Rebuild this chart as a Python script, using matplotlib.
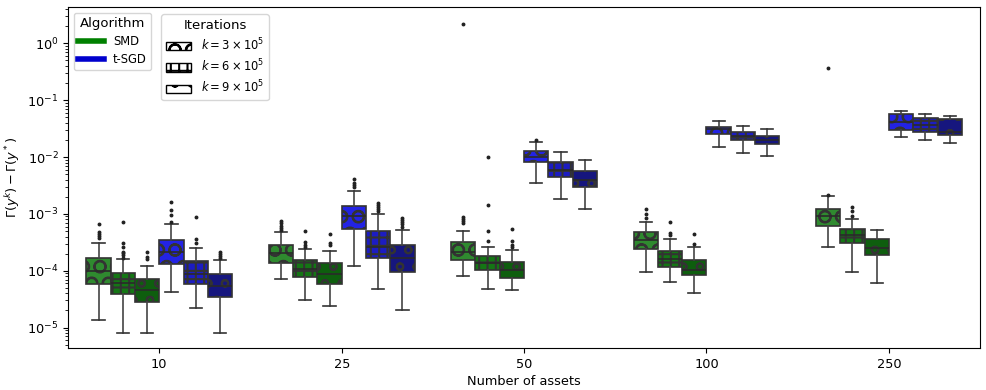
import matplotlib
matplotlib.use('Agg')
import matplotlib.pyplot as plt
from matplotlib.lines import Line2D
from matplotlib.patches import Patch
from matplotlib.ticker import NullFormatter

assets = ['10', '25', '50', '100', '250']
yticks = [1e-5, 1e-4, 1e-3, 1e-2, 1e-1, 1e0]

# box stats per asset count: [whisker low, q1, median, q3, whisker high]
smd_k3 = [[1.35e-5, 5.95e-5, 1.0e-4, 1.66e-4, 3.13e-4],
          [7.2e-5, 1.38e-4, 2.09e-4, 2.82e-4, 4.83e-4],
          [8.2e-5, 1.57e-4, 2.17e-4, 3.18e-4, 5.03e-4],
          [9.7e-5, 2.43e-4, 3.49e-4, 4.83e-4, 7.3e-4],
          [2.63e-4, 6.2e-4, 9.3e-4, 1.21e-3, 2.1e-3]]
smd_k6 = [[8.2e-6, 3.97e-5, 6.1e-5, 9.1e-5, 1.6e-4],
          [3.08e-5, 7.7e-5, 1.09e-4, 1.54e-4, 2.4e-4],
          [4.75e-5, 1.02e-4, 1.39e-4, 1.85e-4, 2.66e-4],
          [6.3e-5, 1.16e-4, 1.62e-4, 2.24e-4, 3.59e-4],
          [9.7e-5, 3.05e-4, 4.22e-4, 5.38e-4, 8.07e-4]]
smd_k9 = [[8.1e-6, 2.84e-5, 4.6e-5, 7.1e-5, 1.22e-4],
          [2.39e-5, 5.95e-5, 8.7e-5, 1.36e-4, 2.21e-4],
          [4.6e-5, 7.6e-5, 1.04e-4, 1.43e-4, 2.33e-4],
          [4.04e-5, 8.4e-5, 1.04e-4, 1.57e-4, 2.66e-4],
          [6.05e-5, 1.93e-4, 2.56e-4, 3.59e-4, 5.24e-4]]
sgd_k3 = [[4.26e-5, 1.31e-4, 2.17e-4, 3.49e-4, 6.6e-4],
          [1.22e-4, 5.45e-4, 9.0e-4, 1.37e-3, 2.57e-3],
          [3.55e-3, 8.1e-3, 1.02e-2, 1.3e-2, 1.87e-2],
          [1.51e-2, 2.58e-2, 3.08e-2, 3.42e-2, 4.31e-2],
          [2.28e-2, 3.03e-2, 4.19e-2, 5.65e-2, 6.46e-2]]
sgd_k6 = [[2.2e-5, 5.9e-5, 8.9e-5, 1.51e-4, 2.5e-4],
          [4.68e-5, 1.7e-4, 2.63e-4, 5.1e-4, 9.9e-4],
          [1.81e-3, 4.42e-3, 5.93e-3, 8.1e-3, 1.21e-2],
          [1.19e-2, 2.02e-2, 2.38e-2, 2.73e-2, 3.56e-2],
          [2.0e-2, 2.73e-2, 3.67e-2, 4.92e-2, 5.8e-2]]
sgd_k9 = [[8.2e-6, 3.44e-5, 5.4e-5, 8.8e-5, 1.57e-4],
          [2.0e-5, 9.4e-5, 1.66e-4, 2.85e-4, 5.24e-4],
          [1.22e-3, 2.94e-3, 3.96e-3, 5.62e-3, 8.9e-3],
          [1.05e-2, 1.68e-2, 2.0e-2, 2.38e-2, 3.12e-2],
          [1.79e-2, 2.42e-2, 2.73e-2, 4.62e-2, 5.28e-2]]

# outliers per asset count
smd_k3_out = [[6.6e-4, 4.9e-4, 4.45e-4, 4.1e-4, 3.74e-4],
              [7.5e-4, 6.9e-4, 6.2e-4, 5.7e-4, 5.3e-4],
              [2.2, 8.75e-4, 8.07e-4, 7.45e-4, 6.87e-4],
              [1.22e-3, 1.0e-3, 8.4e-4],
              [0.372, 2.15e-3]]
smd_k6_out = [[7.15e-4, 3.05e-4, 2.6e-4, 2.17e-4, 2.04e-4, 1.9e-4, 1.7e-4],
              [5.1e-4, 3.22e-4, 2.89e-4, 2.66e-4],
              [9.9e-3, 1.44e-3, 4.97e-4, 3.35e-4],
              [7.15e-4, 4.69e-4, 4.33e-4],
              [1.34e-3, 1.13e-3, 9.3e-4]]
smd_k9_out = [[2.17e-4, 1.73e-4, 1.62e-4],
              [4.5e-4, 3.13e-4, 2.85e-4],
              [5.38e-4, 3.31e-4, 2.82e-4, 2.66e-4],
              [4.4e-4, 2.97e-4],
              []]
sgd_k3_out = [[1.6e-3, 1.16e-3, 9.6e-4, 7.15e-4],
              [4.07e-3, 3.47e-3, 3.2e-3, 2.94e-3],
              [2.02e-2],
              [],
              []]
sgd_k6_out = [[8.9e-4, 3.63e-4, 3.13e-4],
              [1.58e-3, 1.46e-3, 1.34e-3, 1.24e-3, 1.14e-3],
              [], [], []]
sgd_k9_out = [[2.17e-4, 1.98e-4, 1.83e-4, 1.7e-4],
              [8.6e-4, 7.85e-4, 7.15e-4, 6.6e-4, 5.98e-4],
              [], [], []]

series = [(smd_k3, smd_k3_out, '#2f8a2f', 'O'),
          (smd_k6, smd_k6_out, '#147614', '++'),
          (smd_k9, smd_k9_out, '#0e5e0e', 'o'),
          (sgd_k3, sgd_k3_out, '#2323e4', 'O'),
          (sgd_k6, sgd_k6_out, '#1c1cc2', '++'),
          (sgd_k9, sgd_k9_out, '#16167e', 'o')]

plt.rcParams['font.size'] = 9.3
plt.rcParams['hatch.linewidth'] = 1.5
plt.rcParams['hatch.color'] = '#1a1a1a'

fig = plt.figure(figsize=(9.87, 3.9), dpi=100)
ax = fig.add_axes([0.069, 0.108, 0.924, 0.874])

w = 0.8 / 6
for j, (stats, outs, col, hatch) in enumerate(series):
    off = -0.4 + w * (j + 0.5)
    bstats = []
    for i in range(len(assets)):
        lo, q1, med, q3, hi = stats[i]
        bstats.append(dict(whislo=lo, q1=q1, med=med, q3=q3, whishi=hi, fliers=outs[i]))
    pos = [i + off for i in range(len(assets))]
    bp = ax.bxp(bstats, positions=pos, widths=w, patch_artist=True, manage_ticks=False,
                boxprops=dict(facecolor=col, edgecolor='#333333', linewidth=1.2),
                whiskerprops=dict(color='#444444', linewidth=1.2),
                capprops=dict(color='#333333', linewidth=1.2),
                medianprops=dict(color='#2a2a2a', linewidth=1.2),
                flierprops=dict(marker='o', markersize=1.8, markerfacecolor='#222222',
                                markeredgecolor='#222222', linestyle='none'))
    for b in bp['boxes']:
        b.set_hatch(hatch)

ax.set_yscale('log')
ax.set_ylim(4.4e-6, 4.35)
ax.set_yticks(yticks)
ax.yaxis.set_minor_formatter(NullFormatter())
ax.set_xlim(-0.5, len(assets) - 0.5)
ax.set_xticks(range(len(assets)))
ax.set_xticklabels(assets)
ax.set_xlabel('Number of assets', labelpad=3)
ax.set_ylabel(r'$\Gamma(y^k) - \Gamma(y^*)$')

alg_handles = [Line2D([0], [0], color='green', lw=4, label='SMD'),
               Line2D([0], [0], color='mediumblue', lw=4, label='t-SGD')]
leg1 = ax.legend(handles=alg_handles, title='Algorithm', loc='upper left',
                 bbox_to_anchor=(0.0, 1.0), fontsize=8.3, title_fontsize=9.5,
                 labelspacing=0.4, handlelength=2.2)
ax.add_artist(leg1)

it_handles = [Patch(facecolor='white', edgecolor='black', hatch='O', label=r'$k=3\times10^5$'),
              Patch(facecolor='white', edgecolor='black', hatch='++', label=r'$k=6\times10^5$'),
              Patch(facecolor='white', edgecolor='black', hatch='o', label=r'$k=9\times10^5$')]
ax.legend(handles=it_handles, title='Iterations', loc='upper left',
          bbox_to_anchor=(0.096, 0.995), fontsize=8.3, title_fontsize=9.5,
          labelspacing=0.4, handlelength=2.2)

fig.savefig('out.png', dpi=100)
